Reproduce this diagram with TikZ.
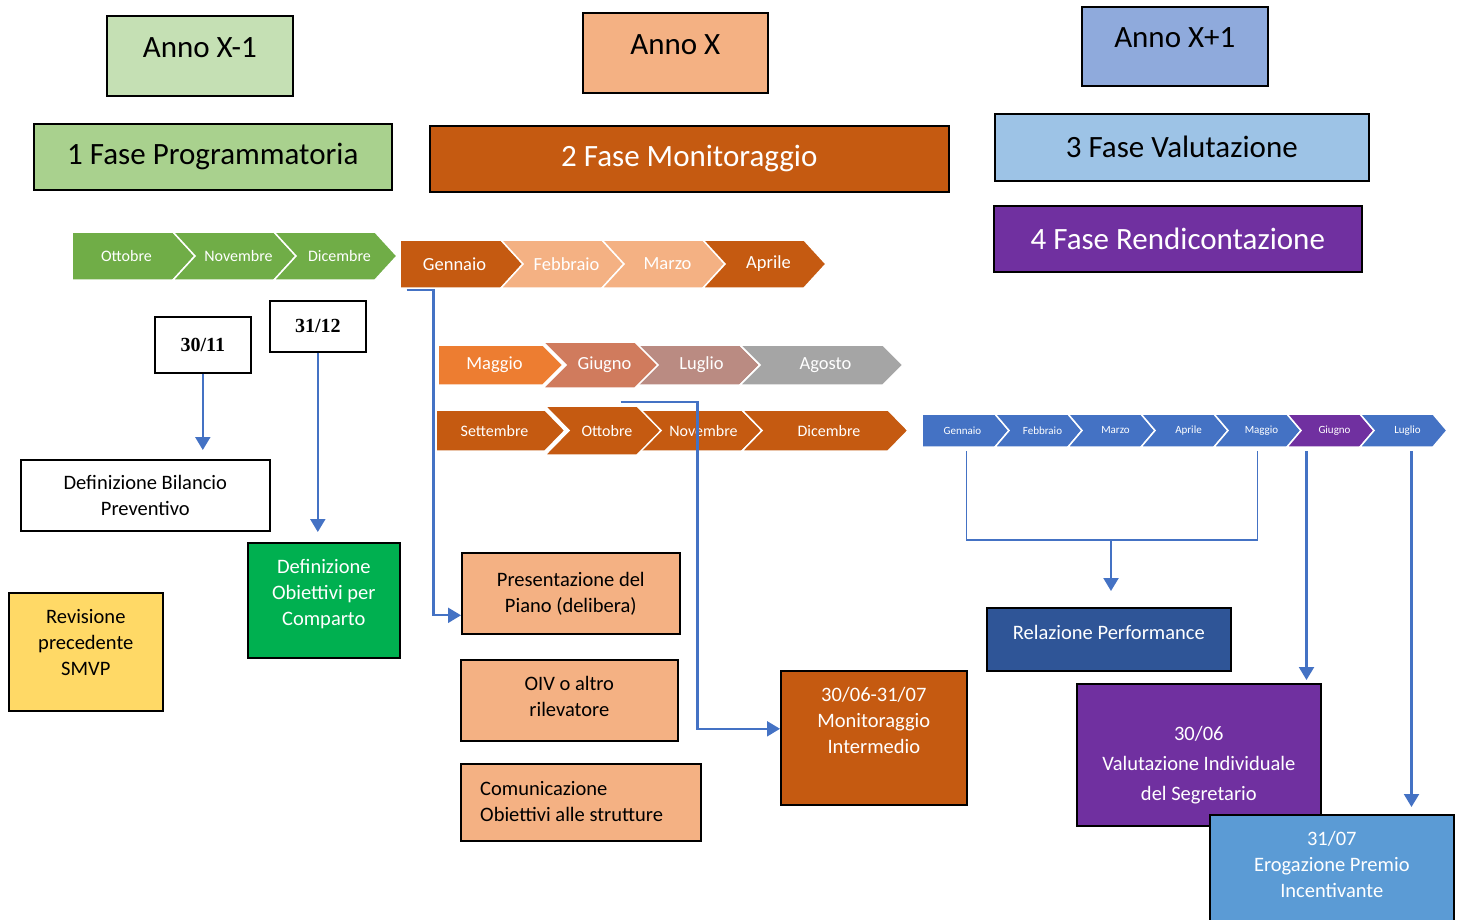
\documentclass[tikz,border=0pt]{standalone}
\usepackage{fontspec}
\setmainfont{Carlito}
\newfontfamily\datefont{Liberation Serif}
\usepackage{xcolor}
\usetikzlibrary{arrows.meta,positioning,calc}

\definecolor{greenA}{HTML}{C5E0B4}
\definecolor{greenF}{HTML}{A9D18E}
\definecolor{greenC}{HTML}{70AD47}
\definecolor{greenB}{HTML}{00B050}
\definecolor{peach}{HTML}{F4B183}
\definecolor{orangeD}{HTML}{C55A11}
\definecolor{orangeM}{HTML}{ED7D31}
\definecolor{rosyG}{HTML}{D07B5D}
\definecolor{rosyL}{HTML}{BA8B82}
\definecolor{greyA}{HTML}{A5A5A5}
\definecolor{blueA}{HTML}{8FAADC}
\definecolor{blueL}{HTML}{9DC3E6}
\definecolor{blueC}{HTML}{4472C4}
\definecolor{navyR}{HTML}{2F5597}
\definecolor{skyE}{HTML}{5B9BD5}
\definecolor{purpleF}{HTML}{7030A0}
\definecolor{yellowR}{HTML}{FFD966}

\tikzset{
  box/.style={draw=black, line width=1.6pt, inner sep=2pt, align=center, anchor=north west,
    font=\fontsize{20.5}{26}\selectfont},
  headbox/.style={box, font=\fontsize{31}{36}\selectfont},
  boxtext/.style={align=center, inner sep=0pt, font=\fontsize{20.5}{26}\selectfont},
  headtext/.style={inner sep=0pt, font=\fontsize{31}{36}\selectfont},
  datebox/.style={box, fill=white, font=\fontsize{20}{24}\datefont\bfseries},
  chevtext/.style={text=white, inner sep=0pt},
  conn/.style={draw=blueC, line width=2.2pt, -{Triangle[width=15pt,length=13pt]}},
  bracket/.style={draw=blueC, line width=1.2pt},
}

% chevron: name, x, top, body width, height, tip, fill, notch, label
\newcommand{\chev}[9]{%
  \filldraw[fill=#7, draw=white, line width=1.5pt] (#2,#3) -- ++(#4,0) -- ++(#6,#5/2)
    -- ++(-#6,#5/2) -- ++(-#4,0) -- ++(#8,-#5/2) -- cycle;
  \node[chevtext, minimum height=#5pt] (#1) at ({#2+(#4+#8)/2+4}, {#3+#5/2}) {#9};
}

\begin{document}
\begin{tikzpicture}[x=1pt, y=-1pt]
  \useasboundingbox (0,0) rectangle (1459,919);
  \clip (0,0) rectangle (1459,919);

  % years
  \node[headbox, fill=greenA, minimum width=186pt, minimum height=80pt] (annoA) at (106,15) {};
  \node[headtext] (annoAtxt) at ([yshift=8pt]annoA.center) {Anno X-1};
  \node[headbox, fill=peach, minimum width=185pt, minimum height=80pt] (annoB) at (582,12) {};
  \node[headtext] (annoBtxt) at ([yshift=8pt]annoB.center) {Anno X};
  \node[headbox, fill=blueA, minimum width=186pt, minimum height=79pt] (annoC) at (1081,6) {};
  \node[headtext] (annoCtxt) at ([yshift=9pt]annoC.center) {Anno X+1};

  % phases
  \node[headbox, fill=greenF, minimum width=358pt, minimum height=66pt] (fase1) at (33,123) {1 Fase Programmatoria};
  \node[headbox, fill=orangeD, text=white, minimum width=519pt, minimum height=66pt] (fase2) at (429,125) {2 Fase Monitoraggio};
  \node[headbox, fill=blueL, minimum width=374pt, minimum height=67pt] (fase3) at (994,113) {3 Fase Valutazione};
  \node[headbox, fill=purpleF, text=white, minimum width=368pt, minimum height=66pt] (fase4) at (993,205) {4 Fase Rendicontazione};

  % months, year X-1
  \begin{scope}[chevtext/.append style={font=\fontsize{16}{16}\selectfont}]
    \foreach \lab [count=\i from 0] in {Ottobre,Novembre,Dicembre} {
      \pgfmathsetmacro\notch{\i==0 ? 0 : 22}
      \chev{g\i}{72+101*\i}{232}{101}{48}{22}{greenC}{\notch}{\lab}
    }
  \end{scope}

  % months, year X
  \begin{scope}[chevtext/.append style={font=\fontsize{18.5}{18.5}\selectfont}]
    \foreach \lab/\col [count=\i from 0] in {Gennaio/orangeD,Febbraio/peach,Marzo/peach,Aprile/orangeD} {
      \pgfmathsetmacro\notch{\i==0 ? 0 : 22}
      \chev{o\i}{400+101*\i}{240}{101}{48}{22}{\col}{\notch}{\lab}
    }
    \chev{m0}{438}{345}{105}{40}{20}{orangeM}{0}{Maggio}
    \chev{m2}{635}{345}{105}{40}{20}{rosyL}{20}{Luglio}
    \chev{m3}{740}{345}{143}{40}{20}{greyA}{20}{Agosto}
    \chev{m1}{543}{342}{92}{46}{23}{rosyG}{23}{Giugno}
  \end{scope}

  \begin{scope}[chevtext/.append style={font=\fontsize{16}{16}\selectfont}]
    \chev{s0}{436}{410}{109}{41}{20}{orangeD}{0}{Settembre}
    \chev{s2}{637}{410}{105}{41}{20}{orangeD}{20}{Novembre}
    \chev{s3}{742}{410}{146}{41}{20}{orangeD}{20}{Dicembre}
    \chev{s1}{545}{406}{92}{49}{24}{orangeD}{24}{Ottobre}
  \end{scope}

  % months, year X+1
  \begin{scope}[chevtext/.append style={font=\fontsize{11}{11}\selectfont}]
    \foreach \lab [count=\i from 0] in {Gennaio,Febbraio,Marzo,Aprile,Maggio,Giugno,Luglio} {
      \pgfmathsetmacro\notch{\i==0 ? 0 : 14}
      \ifnum\i=5 \def\col{purpleF}\else\def\col{blueC}\fi
      \chev{b\i}{922+73*\i}{414}{73}{33}{14}{\col}{\notch}{\lab}
    }
  \end{scope}

  % deadlines and activities
  \node[datebox, minimum width=96pt, minimum height=56pt] (d1) at (154,316) {30/11};
  \node[datebox, minimum width=96pt, minimum height=51pt] (d2) at (269,300) {31/12};
  \node[box, fill=white, minimum width=249pt, minimum height=71pt] (bil) at (20,459) {Definizione Bilancio\\Preventivo};
  \node[box, fill=greenB, minimum width=152pt, minimum height=115pt] (obj) at (247,542) {};
  \node[boxtext, text=white] (objtxt) at ([yshift=6pt]obj.center) {Definizione\\Obiettivi per\\Comparto};
  \node[box, fill=yellowR, minimum width=154pt, minimum height=118pt] (rev) at (8,592) {};
  \node[boxtext] (revtxt) at ([yshift=9pt]rev.center) {Revisione\\precedente\\SMVP};

  \node[box, fill=peach, minimum width=218pt, minimum height=81pt] (pres) at (461,552) {Presentazione del\\Piano (delibera)};
  \node[box, fill=peach, minimum width=217pt, minimum height=81pt] (oiv) at (460,659) {};
  \node[boxtext] (oivtxt) at ([yshift=4pt]oiv.center) {OIV o altro\\rilevatore};
  \node[box, fill=peach, minimum width=240pt, minimum height=77pt] (com) at (460,763) {};
  \node[boxtext, align=left, anchor=west] (comtxt) at ([xshift=20pt,yshift=1pt]com.west) {Comunicazione\\Obiettivi alle strutture};
  \node[box, fill=orangeD, minimum width=186pt, minimum height=134pt] (mon) at (780,670) {};
  \node[boxtext, text=white] (montxt) at ([yshift=17pt]mon.center) {30/06-31/07\\Monitoraggio\\Intermedio};

  \node[box, fill=navyR, minimum width=244pt, minimum height=63pt] (rel) at (986,607) {};
  \node[boxtext, text=white] (reltxt) at ([yshift=7pt]rel.center) {Relazione Performance};
  \node[box, fill=purpleF, minimum width=244pt, minimum height=142pt] (val) at (1076,683) {};
  \node[boxtext, text=white, font=\fontsize{20.5}{30}\selectfont] (valtxt) at ([yshift=-10pt]val.center) {30/06\\Valutazione Individuale\\del Segretario};
  \node[box, fill=skyE, minimum width=244pt, minimum height=112pt] (ero) at (1209,814) {};
  \node[boxtext, text=white] (erotxt) at ([yshift=6pt]ero.center) {31/07\\Erogazione Premio\\Incentivante};

  % connectors
  \draw[conn, shorten >=9pt] (d1.south) -- (d1.south |- bil.north);
  \draw[conn, shorten >=10pt] (d2.south) -- (d2.south |- obj.north);
  \draw[conn] ([xshift=-48pt,yshift=-2pt]o0.south) -- ++(27,0) |- ([yshift=-22pt]pres.west);
  \draw[conn] ([xshift=16pt,yshift=-14pt]m1.south) -- ++(77,0) |- ([yshift=9pt]mon.west);

  \coordinate (brk) at (1111,540);
  \draw[bracket] ([xshift=4pt,yshift=-4pt]b0.south) |- (brk) -| ([xshift=-4pt,yshift=-4pt]b4.south);
  \draw[conn, shorten >=16pt] (brk) -- (brk |- rel.north);
  \draw[conn, shorten >=3pt] ([xshift=-28pt,yshift=-4pt]b5.south) coordinate (v0) -- (v0 |- val.north);
  \draw[conn, shorten >=7pt] ([xshift=4pt,yshift=-4pt]b6.south) coordinate (v1) -- (v1 |- ero.north);
\end{tikzpicture}
\end{document}
